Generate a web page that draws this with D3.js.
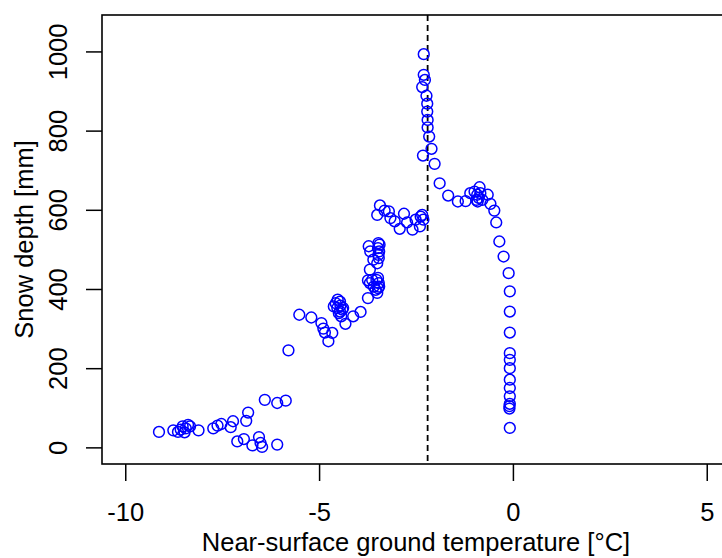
<!DOCTYPE html>
<html>
<head>
<meta charset="utf-8">
<script src="https://cdn.jsdelivr.net/npm/d3@7"></script>
<style>
  html, body { margin: 0; padding: 0; background: #ffffff; }
  svg { display: block; }
  text { font-family: "Liberation Sans", Arial, sans-serif; fill: #000; }
</style>
</head>
<body>
<div id="chart"></div>
<script>
// Near-surface ground temperature [°C]
const temperature = [
  -9.13, -8.76, -8.64, -8.57, -8.52, -8.47, -8.44, -8.38, -8.33, -8.11,
  -7.73, -7.62, -7.52, -7.28, -7.22, -6.88, -6.83, -7.11, -6.94, -6.72,
  -6.55, -6.51, -6.47, -6.08, -6.40, -6.08, -5.86,
  -5.79, -5.51, -5.20, -4.94, -4.89, -4.85, -4.76, -4.66,
  -4.62, -4.57, -4.52, -4.46, -4.53, -4.45, -4.40, -4.49, -4.43, -4.46, -4.38,
  -4.32, -4.12, -3.93, -3.74,
  -3.74, -3.69, -3.63, -3.59, -3.54, -3.50, -3.48, -3.46, -3.48, -3.52, -3.45,
  -3.69, -3.72, -3.68, -3.60, -3.50, -3.46, -3.47, -3.44, -3.48, -3.45, -3.47,
  -3.43, -3.50, -3.31, -3.20, -3.16, -3.05, -2.92, -2.81, -2.73, -2.59,
  -2.51, -2.40, -2.34, -2.31, -2.38,
  -2.30, -2.30, -2.27, -2.34, -2.23, -2.21, -2.21, -2.20, -2.20, -2.16,
  -2.10, -2.32, -2.02, -1.89, -1.67, -1.42, -1.22, -1.10, -0.99, -0.86,
  -0.92, -0.88, -0.84, -0.91, -0.79, -0.94,
  -0.65, -0.58, -0.48, -0.43, -0.35, -0.24, -0.11,
  -0.08, -0.08, -0.08, -0.08, -0.08, -0.08, -0.08, -0.08, -0.08, -0.08,
  -0.09, -0.09, -0.08
];
// Snow depth [mm]
const snowDepth = [
  39, 43, 39, 45, 53, 38, 48, 57, 53, 43,
  48, 55, 59, 51, 66, 67, 88, 15, 21, 5,
  26, 11, 1, 7, 120, 112, 118,
  245, 335, 328, 314, 300, 290, 268, 289,
  356, 364, 373, 368, 352, 358, 348, 339, 331, 343, 352,
  312, 331, 342, 377,
  422, 415, 423, 406, 398, 390, 428, 415, 402, 423, 406,
  449, 508, 495, 474, 465, 478, 516, 512, 503, 495, 486,
  611, 587, 598, 596, 579, 571, 552, 590, 568, 550,
  575, 558, 587, 575, 583,
  993, 941, 928, 910, 888, 868, 848, 827, 808, 785,
  754, 737, 716, 667, 636, 621, 622, 642, 646, 657,
  638, 630, 642, 621, 625, 625,
  638, 615, 598, 568, 520, 482, 440,
  394, 343, 290, 238, 221, 200, 171, 150, 129, 110,
  104, 98, 49
];
const xTicks = [-10, -5, 0, 5];
const yTicks = [0, 200, 400, 600, 800, 1000];
const thresholdTemp = [-2.2];
const xLabel = "Near-surface ground temperature [°C]";
const yLabel = "Snow depth [mm]";

const W = 722, H = 558;
const plot = { left: 102, right: 730, top: 15, bottom: 464 };

const svg = d3.select("#chart").append("svg")
  .attr("width", W).attr("height", H);

const x = d3.scaleLinear().domain([-10.6, 5.6]).range([plot.left, plot.right]);
const y = d3.scaleLinear().domain([-42, 1092]).range([plot.bottom, plot.top]);

const fontSize = 25.5;

// x axis
const xAxis = d3.axisBottom(x).tickValues(xTicks).tickSize(17).tickSizeOuter(0)
  .tickFormat(d3.format("d"));
const gx = svg.append("g").attr("transform", `translate(0,${plot.bottom})`).call(xAxis);
gx.select(".domain").remove();
gx.selectAll(".tick line").attr("stroke", "#000").attr("stroke-width", 1.5);
gx.selectAll(".tick text").attr("font-size", fontSize)
  .attr("font-family", "Liberation Sans, Arial, sans-serif")
  .attr("dy", null).attr("y", 57).text(d => d < 0 ? "-" + Math.abs(d) : d);

// y axis
const yAxis = d3.axisLeft(y).tickValues(yTicks).tickSize(16).tickSizeOuter(0)
  .tickFormat(d3.format("d"));
const gy = svg.append("g").attr("transform", `translate(${plot.left},0)`).call(yAxis);
gy.select(".domain").remove();
gy.selectAll(".tick line").attr("stroke", "#000").attr("stroke-width", 1.5);
gy.selectAll(".tick text").attr("font-size", fontSize)
  .attr("font-family", "Liberation Sans, Arial, sans-serif")
  .attr("x", null).attr("dy", null)
  .attr("text-anchor", "middle")
  .attr("transform", "translate(-35,0) rotate(-90)")
  .attr("y", 0);

// plot box
svg.append("rect")
  .attr("x", plot.left).attr("y", plot.top)
  .attr("width", plot.right - plot.left).attr("height", plot.bottom - plot.top)
  .attr("fill", "none").attr("stroke", "#000").attr("stroke-width", 1.6);

// threshold dashed line
svg.selectAll("line.thr").data(thresholdTemp).enter().append("line")
  .attr("class", "thr")
  .attr("x1", d => x(d)).attr("x2", d => x(d))
  .attr("y1", plot.top).attr("y2", plot.bottom)
  .attr("stroke", "#000").attr("stroke-width", 1.8)
  .attr("stroke-dasharray", "6,4");

// points
const pts = temperature.map((t, i) => ({ t, d: snowDepth[i] }));
svg.append("g").selectAll("circle").data(pts).enter().append("circle")
  .attr("cx", p => x(p.t)).attr("cy", p => y(p.d))
  .attr("r", 5.4)
  .attr("fill", "none").attr("stroke", "#0000ff").attr("stroke-width", 1.5);

// axis titles
svg.append("text").attr("x", (plot.left + plot.right) / 2).attr("y", 551)
  .attr("text-anchor", "middle").attr("font-size", fontSize).text(xLabel);
svg.append("text").attr("transform", `translate(33,${(plot.top + plot.bottom) / 2}) rotate(-90)`)
  .attr("text-anchor", "middle").attr("font-size", fontSize).text(yLabel);
</script>
</body>
</html>
